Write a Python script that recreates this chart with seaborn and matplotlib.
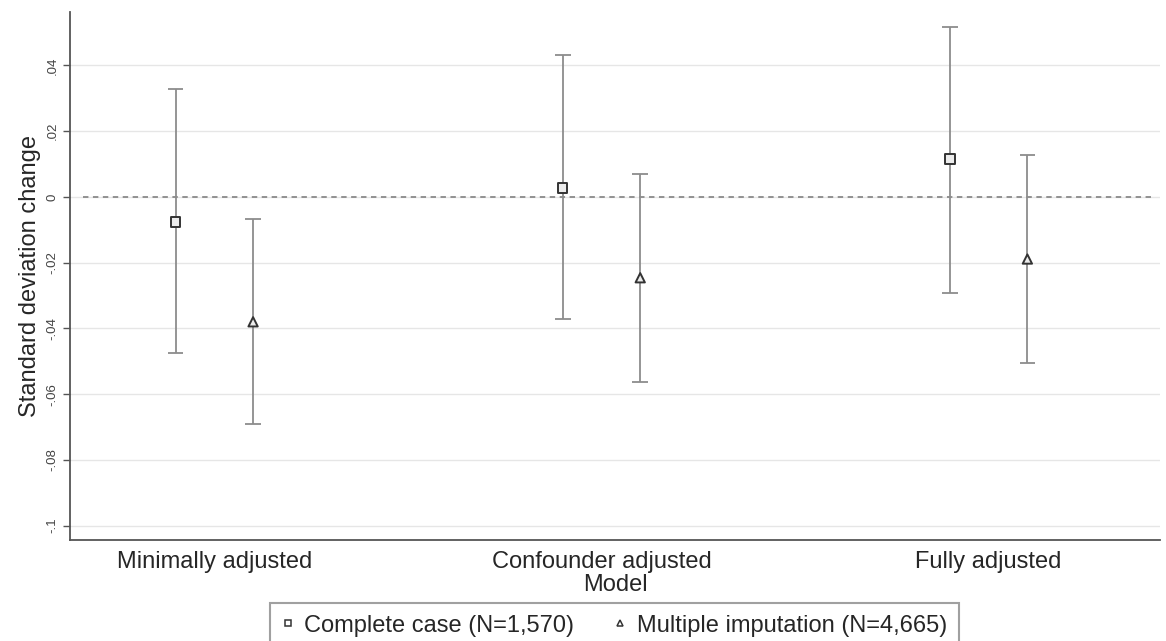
import numpy as np
import pandas as pd
import matplotlib
matplotlib.use("Agg")
import matplotlib.pyplot as plt
import seaborn as sns

# -------------------------
# Datos
# -------------------------
modelos = ["Minimally adjusted", "Confounder adjusted", "Fully adjusted"]
series = ["Complete case (N=1,570)", "Multiple imputation (N=4,665)"]

cc_est = [-0.0076, 0.0027, 0.0115]
cc_low = [-0.0475, -0.0371, -0.0292]
cc_high = [0.0328, 0.0432, 0.0517]

mi_est = [-0.0380, -0.0246, -0.0189]
mi_low = [-0.0690, -0.0562, -0.0505]
mi_high = [-0.0067, 0.0070, 0.0128]

yticks = [0.04, 0.02, 0, -0.02, -0.04, -0.06, -0.08, -0.1]
ytick_labels = [".04", ".02", "0", "-.02", "-.04", "-.06", "-.08", "-.1"]

# tabla larga
df = pd.DataFrame({
    "modelo": modelos * 2,
    "serie": [series[0]] * 3 + [series[1]] * 3,
    "est": cc_est + mi_est,
    "low": cc_low + mi_low,
    "high": cc_high + mi_high,
})
dodge = {series[0]: -0.1, series[1]: 0.1}
df["x"] = df["modelo"].map({m: i + 1 for i, m in enumerate(modelos)}) + df["serie"].map(dodge)

# -------------------------
# Figura
# -------------------------
sns.set_theme(style="white")
plt.rcParams["font.family"] = ["Liberation Sans", "DejaVu Sans"]

fig = plt.figure(figsize=(11.66, 6.41), dpi=100)
ax = fig.add_axes([0.060, 0.158, 0.935, 0.823])

# grid horizontal
for y in yticks:
    ax.axhline(y, color="#e6e6e6", lw=1.0, zorder=0)
ax.plot([0.66, 3.42], [0, 0], ls=(0, (3, 2.5)), color="#8a8a8a", lw=1.3, zorder=1)

# intervalos
ax.vlines(df["x"], df["low"], df["high"], color="#8c8c8c", lw=1.3, zorder=2)
ax.hlines(df["low"], df["x"] - 0.02, df["x"] + 0.02, color="#8c8c8c", lw=1.3, zorder=2)
ax.hlines(df["high"], df["x"] - 0.02, df["x"] + 0.02, color="#8c8c8c", lw=1.3, zorder=2)

sns.scatterplot(data=df, x="x", y="est", style="serie",
                markers={series[0]: "s", series[1]: "^"},
                s=45, facecolor="#ececec", edgecolor="#333333", linewidth=1.4,
                ax=ax, zorder=3, legend=False)

ax.set_xlim(0.627, 3.443)
ax.set_ylim(-0.1043, 0.0562)
ax.set_xticks([1, 2, 3])
ax.set_xticklabels(modelos, fontsize=17)
ax.set_yticks(yticks)
ax.set_yticklabels(ytick_labels, rotation=90, fontsize=9.5, color="#444444", va="center")
ax.tick_params(axis="y", length=5, width=1, color="#555555", pad=3, left=True)
ax.tick_params(axis="x", length=0, pad=8)

ax.set_xlabel("Model", fontsize=17, labelpad=1)
ax.set_ylabel("Standard deviation change", fontsize=17, labelpad=4)

for lado in ["top", "right"]:
    ax.spines[lado].set_visible(False)
for lado in ["left", "bottom"]:
    ax.spines[lado].set_color("#555555")
    ax.spines[lado].set_linewidth(1.3)

# leyenda
h1 = plt.Line2D([], [], ls="none", marker="s", ms=5, mfc="white", mec="#333333", mew=1.1)
h2 = plt.Line2D([], [], ls="none", marker="^", ms=5, mfc="white", mec="#333333", mew=1.1)
leg = fig.legend([h1, h2], series, loc="upper center", bbox_to_anchor=(0.527, 0.078),
                 ncol=2, fontsize=17, frameon=True, fancybox=False, edgecolor="#888888",
                 handlelength=0.5, handletextpad=0.45, columnspacing=1.7, borderpad=0.5)
leg.get_frame().set_linewidth(1.5)

fig.savefig("out.png", dpi=100)
